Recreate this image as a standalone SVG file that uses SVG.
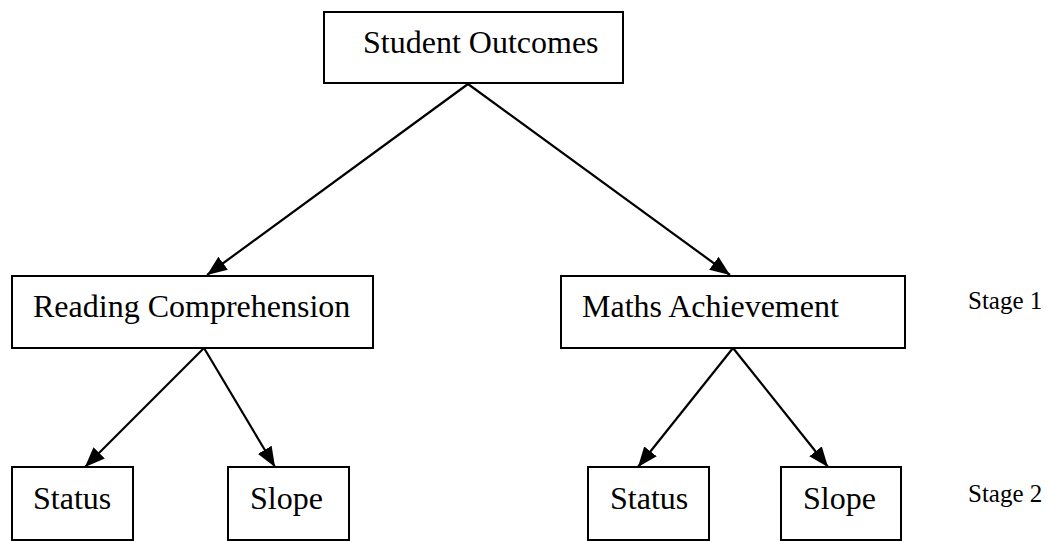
<svg xmlns="http://www.w3.org/2000/svg" width="1049" height="541" viewBox="0 0 1049 541">
<style>
.box{fill:#fff;stroke:#000;stroke-width:2}
.t{font-family:"Liberation Serif","Times New Roman",serif;font-size:32px;fill:#000}
.s{font-family:"Liberation Serif","Times New Roman",serif;font-size:25px;fill:#000}
.c{stroke:#000;stroke-width:2.2;fill:none;marker-end:url(#ah)}
</style>
<defs>
<marker id="ah" markerUnits="userSpaceOnUse" markerWidth="20" markerHeight="16" viewBox="0 0 20 16" refX="20" refY="8" orient="auto">
<path d="M0,0 L20,8 L0,16 Z" fill="#000"/>
</marker>
</defs>
<rect width="1049" height="541" fill="#fff"/>
<g id="connectors">
<line class="c" x1="468" y1="84" x2="207" y2="275"/>
<line class="c" x1="468" y1="84" x2="730" y2="275"/>
<line class="c" x1="204" y1="348" x2="85" y2="467"/>
<line class="c" x1="204" y1="348" x2="275" y2="467"/>
<line class="c" x1="733" y1="348" x2="638" y2="467"/>
<line class="c" x1="733" y1="348" x2="828" y2="467"/>
</g>
<g id="student-outcomes">
<rect class="box" x="324" y="12" width="299" height="71"/>
<text class="t" x="363" y="53">Student Outcomes</text>
</g>
<g id="reading">
<rect class="box" x="12" y="276" width="361" height="72"/>
<text class="t" x="33" y="317">Reading Comprehension</text>
</g>
<g id="maths">
<rect class="box" x="561" y="276" width="344" height="72"/>
<text class="t" x="582" y="317">Maths Achievement</text>
</g>
<g id="status-reading">
<rect class="box" x="12" y="467" width="121" height="73"/>
<text class="t" x="33" y="509">Status</text>
</g>
<g id="slope-reading">
<rect class="box" x="228" y="467" width="121" height="73"/>
<text class="t" x="250" y="509">Slope</text>
</g>
<g id="status-maths">
<rect class="box" x="588" y="467" width="121" height="73"/>
<text class="t" x="610" y="509">Status</text>
</g>
<g id="slope-maths">
<rect class="box" x="781" y="467" width="120" height="73"/>
<text class="t" x="803" y="509">Slope</text>
</g>
<g id="stage1"><text class="s" x="968" y="309">Stage 1</text></g>
<g id="stage2"><text class="s" x="968" y="502">Stage 2</text></g>
</svg>
